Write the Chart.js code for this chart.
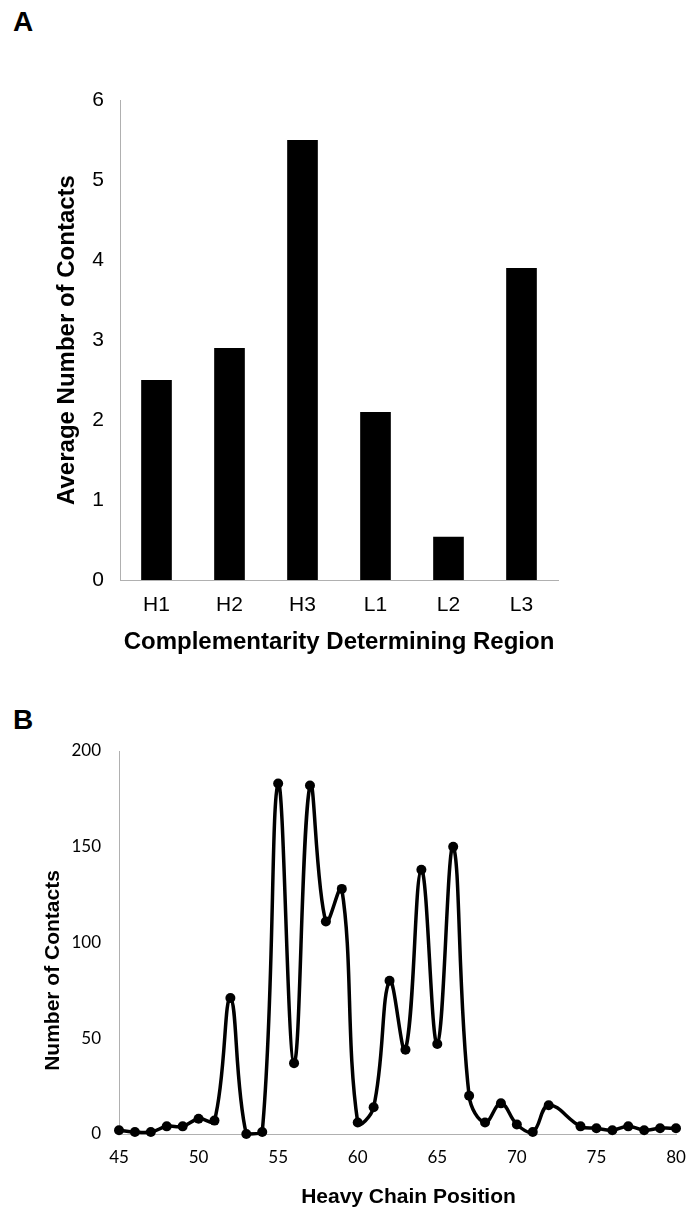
<!DOCTYPE html>
<html lang="en">
<head>
<meta charset="UTF-8">
<title>CDR contacts</title>
<script src="https://cdn.jsdelivr.net/npm/chart.js"></script>
<style>
  body { margin: 0; background: #fff; width: 689px; height: 1209px; position: relative; overflow: hidden; }
  .panel-label { position: absolute; left: 13px; font: bold 28px "Liberation Sans", Arial, sans-serif; color: #000; }
  #wrapA { position: absolute; left: 0; top: 0; width: 689px; height: 680px; }
  #wrapB { position: absolute; left: 0; top: 690px; width: 689px; height: 519px; }
</style>
</head>
<body>
<div class="panel-label" style="top:6px">A</div>
<div class="panel-label" style="top:704px">B</div>
<div id="wrapA"><canvas id="chartA"></canvas></div>
<div id="wrapB"><canvas id="chartB"></canvas></div>

<script>
// panel A
const regions = ["H1", "H2", "H3", "L1", "L2", "L3"];
const avgContacts = [2.5, 2.9, 5.5, 2.1, 0.54, 3.9];

// panel B (position 73 has no point)
const positions = [45, 46, 47, 48, 49, 50, 51, 52, 53, 54, 55, 56, 57, 58, 59, 60, 61, 62, 63,
                   64, 65, 66, 67, 68, 69, 70, 71, 72, 74, 75, 76, 77, 78, 79, 80];
const contacts = [2, 1, 1, 4, 4, 8, 7, 71, 0, 1, 183, 37, 182, 111, 128, 6, 14, 80, 44,
                  138, 47, 150, 20, 6, 16, 5, 1, 15, 4, 3, 2, 4, 2, 3, 3];

const helv = "'Liberation Sans', Arial, sans-serif";
const calib = "Lato, 'Open Sans', sans-serif";
const axisBorder = { display: true, color: "#b0b0b0", width: 1, dash: [1, 2] };

// axis titles for panel B sit a bit off-centre in the original, so draw them by hand
const offsetTitles = {
  id: "offsetTitles",
  afterDraw(chart, args, opts) {
    if (!opts.items) return;
    const ctx = chart.ctx, a = chart.chartArea;
    ctx.save();
    ctx.fillStyle = "#000";
    ctx.textAlign = "center";
    ctx.textBaseline = "middle";
    opts.items.forEach(t => {
      ctx.font = t.font;
      ctx.save();
      if (t.vertical) {
        ctx.translate(t.x, (a.top + a.bottom) / 2 + t.dy);
        ctx.rotate(-Math.PI / 2);
      } else {
        ctx.translate((a.left + a.right) / 2 + t.dx, a.bottom + t.y);
      }
      ctx.fillText(t.text, 0, 0);
      ctx.restore();
    });
    ctx.restore();
  }
};

new Chart(document.getElementById("chartA"), {
  type: "bar",
  data: {
    labels: regions,
    datasets: [{
      data: avgContacts,
      backgroundColor: "#000",
      barPercentage: 0.42,
      categoryPercentage: 1
    }]
  },
  options: {
    responsive: true,
    maintainAspectRatio: false,
    animation: false,
    layout: { padding: { left: 53, top: 100, right: 131, bottom: 23 } },
    plugins: { legend: { display: false }, tooltip: { enabled: false } },
    scales: {
      x: {
        grid: { display: false },
        border: axisBorder,
        ticks: { color: "#000", font: { family: helv, size: 21 }, padding: 5 },
        title: { display: true, text: "Complementarity Determining Region", color: "#000",
                 font: { family: helv, size: 24, weight: "bold" }, padding: 0 },
        afterFit: s => { s.height = 77; }
      },
      y: {
        min: 0, max: 6,
        grid: { display: false },
        border: axisBorder,
        ticks: { stepSize: 1, color: "#000", font: { family: helv, size: 21 }, padding: 8 },
        title: { display: true, text: "Average Number of Contacts", color: "#000",
                 font: { family: helv, size: 24, weight: "bold" }, padding: 0 },
        afterFit: s => { s.width = 67; }
      }
    }
  }
});

const pts = positions.map((p, i) => ({ x: p, y: contacts[i] }));

new Chart(document.getElementById("chartB"), {
  type: "line",
  data: {
    datasets: [{
      data: pts,
      borderColor: "#000",
      backgroundColor: "#000",
      borderWidth: 3.5,
      pointRadius: 5,
      pointBackgroundColor: "#000",
      pointBorderWidth: 0,
      tension: 0.4,
      fill: false
    }]
  },
  plugins: [offsetTitles],
  options: {
    responsive: true,
    maintainAspectRatio: false,
    animation: false,
    clip: false,
    layout: { padding: { left: 0, top: 61, right: 13, bottom: 0 } },
    plugins: {
      legend: { display: false },
      tooltip: { enabled: false },
      offsetTitles: {
        items: [
          { text: "Heavy Chain Position", font: "bold 21px " + helv, dx: 11, y: 63 },
          { text: "Number of Contacts", font: "bold 21px " + helv, vertical: true, x: 53, dy: 28 }
        ]
      }
    },
    scales: {
      x: {
        type: "linear", min: 45, max: 80,
        grid: { display: false },
        border: axisBorder,
        ticks: { stepSize: 5, color: "#000", font: { family: calib, size: 17 }, padding: 5 },
        afterFit: s => { s.height = 75; s.paddingRight = 0; s.paddingLeft = 0; }
      },
      y: {
        min: 0, max: 200,
        grid: { display: false },
        border: axisBorder,
        ticks: { stepSize: 50, color: "#000", font: { family: calib, size: 17 }, padding: 10 },
        afterFit: s => { s.width = 119; }
      }
    }
  }
});
</script>
</body>
</html>
